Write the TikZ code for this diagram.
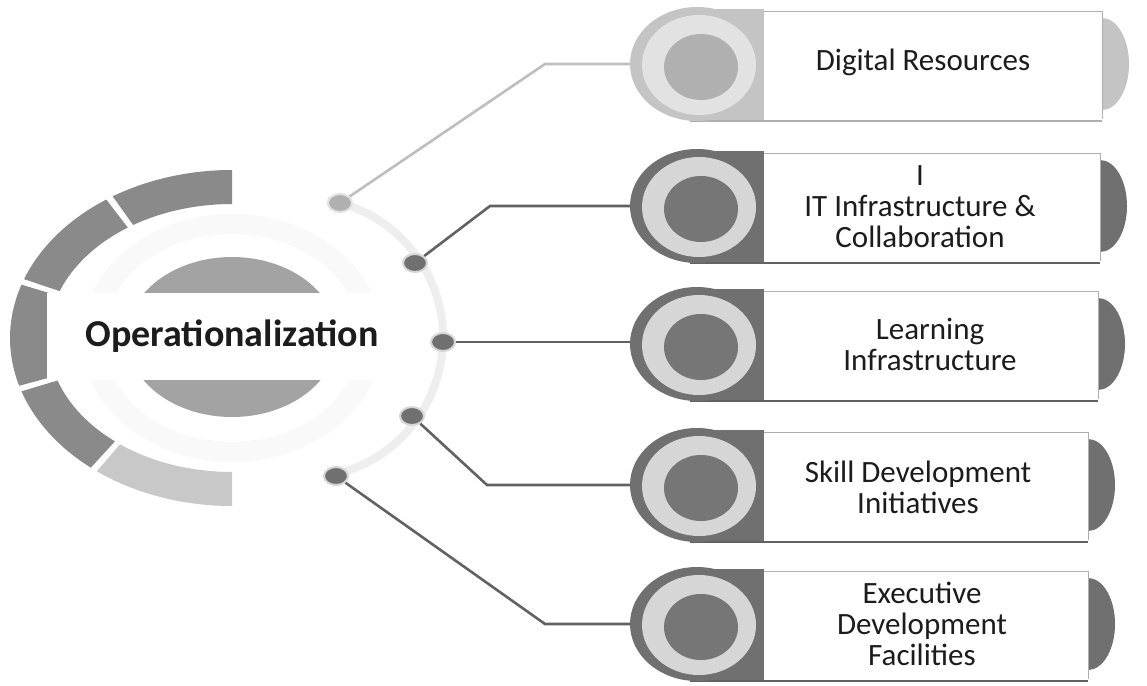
\documentclass[tikz,border=0pt]{standalone}
\usepackage{fontspec}
\setmainfont{Carlito}
\usetikzlibrary{shapes.geometric,calc}
\definecolor{darkc}{RGB}{112,112,112}
\definecolor{bandc}{RGB}{214,214,214}
\definecolor{innerc}{RGB}{118,118,118}
\definecolor{lightouter}{RGB}{196,196,196}
\definecolor{lightband}{RGB}{226,226,226}
\definecolor{lightinner}{RGB}{176,176,176}
\definecolor{linec}{RGB}{98,98,98}
\definecolor{linelight}{RGB}{190,190,190}
\definecolor{segc}{RGB}{138,138,138}
\definecolor{seglight}{RGB}{200,200,200}
\definecolor{ellc}{RGB}{163,163,163}
\definecolor{txtc}{RGB}{28,28,28}
\definecolor{faintc}{RGB}{238,238,238}
\definecolor{edgec}{RGB}{175,175,175}
\tikzset{
  itemtext/.style={align=center, font=\fontsize{31}{31}\selectfont, text=txtc, inner sep=0pt},
  dotnode/.style={ellipse, minimum width=24pt, minimum height=18pt, inner sep=0pt, line width=2pt},
  darkdot/.style={dotnode, fill=darkc, draw=bandc},
  lightdot/.style={dotnode, fill=lightinner, draw=lightband},
  conn/.style={draw=linec, line width=2.6pt},
  connlight/.style={draw=linelight, line width=2.6pt},
  ringnode/.style={ellipse, minimum width=134pt, minimum height=114pt, inner sep=0pt},
}
% screen angles #1 -> #2 (counter-clockwise), colour #3
\newcommand\ringseg[3]{%
  \fill[#3] (-#1:222 and 168) arc[start angle=-#1, end angle=-#2, x radius=222, y radius=168]
    -- (-#2:184 and 134) arc[start angle=-#2, end angle=-#1, x radius=184, y radius=134] -- cycle;}
% #1 name, #2 Y, #3 right edge, #4 outer, #5 band, #6 inner, #7 tab, #8 bottom line
\newcommand\rowitem[8]{%
  \fill[#4] (696,#2-55) rectangle (764,#2+57);
  \fill[#7] (#3,#2-46) arc[start angle=-90, end angle=90, x radius=27, y radius=46] -- cycle;
  \fill[white] (764,#2-53) rectangle (#3,#2+55);
  \draw[edgec, line width=0.8pt] (764,#2-53) -- (#3,#2-53) -- (#3,#2+55);
  \draw[#8, line width=2.4pt] (690,#2+57) -- (#3,#2+57);
  \node[ringnode, fill=#4] (#1) at (697,#2) {};
  \fill[#5] (699,#2+1) ellipse[x radius=57, y radius=50];
  \fill[#6] (701,#2+3) ellipse[x radius=37, y radius=33];
}
\begin{document}
\begin{tikzpicture}[x=1pt,y=-1pt]
\useasboundingbox (0,0) rectangle (1147,685);
\fill[white] (0,0) rectangle (1147,685);
% faint circle through the dots
\draw[faintc, line width=8pt] (303,338) ++(-80:140) arc[start angle=-80, end angle=80, radius=140];
% central emblem
\begin{scope}[shift={(232,338)}]
  \fill[gray!5] (0,0) ellipse[x radius=150, y radius=124];
  \fill[white] (0,0) ellipse[x radius=128, y radius=104];
  \fill[ellc] (0,-1) ellipse[x radius=105, y radius=80];
  \ringseg{90}{122.5}{segc}
  \ringseg{124.5}{159.5}{segc}
  \ringseg{161.5}{196.5}{segc}
  \ringseg{198.5}{230.5}{segc}
  \ringseg{232.5}{270}{seglight}
\end{scope}
\fill[white] (47,293) rectangle (400,380);
\node[font=\bfseries\fontsize{38}{40}\selectfont, text=txtc, inner sep=0pt] (main) at (232,336) {Operationalization};
% dots
\node[lightdot] (d1) at (340,203) {};
\node[darkdot] (d2) at (415,263) {};
\node[darkdot] (d3) at (443,342) {};
\node[darkdot] (d4) at (412,416) {};
\node[darkdot] (d5) at (336,476) {};
% items
\rowitem{r1}{64}{1102}{lightouter}{lightband}{lightinner}{lightouter}{edgec}
\rowitem{r2}{206}{1100}{darkc}{bandc}{innerc}{darkc}{linec}
\rowitem{r3}{344}{1098}{darkc}{bandc}{innerc}{darkc}{linec}
\rowitem{r4}{485}{1088}{darkc}{bandc}{innerc}{darkc}{linec}
\rowitem{r5}{624}{1088}{darkc}{bandc}{innerc}{darkc}{linec}
% texts
\node[itemtext] (t1) at (923,62) {Digital Resources};
\node[itemtext] (t2) at (920,207) {I\\IT Infrastructure \&\\Collaboration};
\node[itemtext] (t3) at (930,344) {Learning\\Infrastructure};
\node[itemtext] (t4) at (918,487) {Skill Development\\Initiatives};
\node[itemtext] (t5) at (922,624) {Executive\\Development\\Facilities};
% connectors
\coordinate (b1) at (545,64);
\coordinate (b2) at (490,206);
\coordinate (b4) at (487,485);
\coordinate (b5) at (545,624);
\draw[connlight] (d1) -- (b1) -- (r1.west);
\draw[conn] (d2) -- (b2) -- (r2.west);
\draw[conn] (d3) -- (d3 -| r3.west);
\draw[conn] (d4) -- (b4) -- (r4.west);
\draw[conn] (d5) -- (b5) -- (r5.west);
\end{tikzpicture}
\end{document}
